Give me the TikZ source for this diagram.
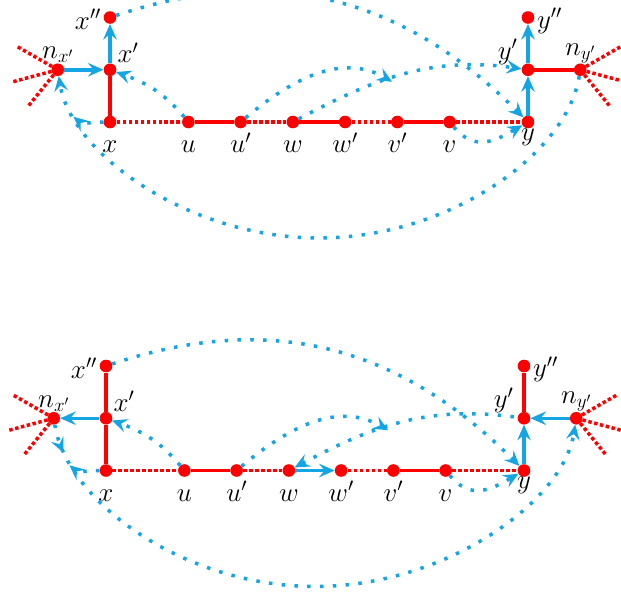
\RequirePackage{fix-cm}
\documentclass[tikz,border=0pt]{standalone}
\usetikzlibrary{arrows.meta,decorations.markings}
\definecolor{myred}{RGB}{255,0,0}
\definecolor{myblue}{RGB}{20,165,228}
\tikzset{
  vert/.style={circle, fill=myred, inner sep=0pt, minimum size=12.6pt},
  lab/.style={inner sep=0pt, font=\fontsize{27}{32}\selectfont},
  redline/.style={myred, line width=3.5pt},
  reddot/.style={myred, line width=3.5pt, dash pattern=on 3.5pt off 2.5pt},
  bluearrow/.style={myblue, line width=3.5pt, -{Stealth[length=15.5pt,width=13.5pt,inset=5.5pt]}},
  bluedot/.style={myblue, line width=3.5pt, dash pattern=on 3.5pt off 9.3pt},
  tipend/.style={-{Stealth[length=15pt,width=13.5pt,inset=5.5pt]}},
  tipstart/.style={{Stealth[length=15pt,width=13.5pt,inset=5.5pt]}-},
  midtip/.style={decoration={markings, mark=at position 0.045 with {\arrow{Stealth[length=15pt,width=13.5pt,inset=5.5pt]}}}, postaction={decorate}}
}
\begin{document}
\begin{tikzpicture}[x=52.25pt,y=52.25pt]
\useasboundingbox (-2.1053,-8.995) rectangle (9.780,2.335);
\clip (-2.1053,-8.995) rectangle (9.780,2.335);

% ---------------- top diagram ----------------
\begin{scope}
\node[vert] (tx) at (0,0) {};
\node[vert] (tx1) at (0,1) {};
\node[vert] (tx2) at (0,2) {};
\node[vert] (tnx) at (-1,1) {};
\node[vert] (tu) at (1.5,0) {};
\node[vert] (tu1) at (2.5,0) {};
\node[vert] (tw) at (3.5,0) {};
\node[vert] (tw1) at (4.5,0) {};
\node[vert] (tv1) at (5.5,0) {};
\node[vert] (tv) at (6.5,0) {};
\node[vert] (ty) at (8,0) {};
\node[vert] (ty1) at (8,1) {};
\node[vert] (ty2) at (8,2) {};
\node[vert] (tny) at (9,1) {};

\node[lab, anchor=base east] (tlx2) at (-0.17,1.77) {$x''$};
\node[lab, anchor=base west] (tlx1) at (0.14,1.13) {$x'$};
\node[lab, anchor=south] (tlnx) at (-1,1.13) {$n_{x'}$};
\node[lab, anchor=base] (tlx) at (0,-0.59) {$x$};
\node[lab, anchor=base] (tlu) at (1.5,-0.59) {$u$};
\node[lab, anchor=base] (tlu1) at (2.5,-0.59) {$u'$};
\node[lab, anchor=base] (tlw) at (3.5,-0.59) {$w$};
\node[lab, anchor=base] (tlw1) at (4.5,-0.59) {$w'$};
\node[lab, anchor=base] (tlv1) at (5.5,-0.59) {$v'$};
\node[lab, anchor=base] (tlv) at (6.5,-0.59) {$v$};
\node[lab, anchor=base] (tly) at (8,-0.345) {$y$};
\node[lab, anchor=base east] (tly1) at (7.8,1.2) {$y'$};
\node[lab, anchor=base west] (tly2) at (8.17,1.79) {$y''$};
\node[lab, anchor=south] (tlny) at (9,1.13) {$n_{y'}$};

\coordinate (tr1) at (-1.77,1.44);
\coordinate (tr2) at (-1.86,0.77);
\coordinate (tr3) at (-1.56,0.31);
\coordinate (tr4) at (9.77,1.44);
\coordinate (tr5) at (9.86,0.77);
\coordinate (tr6) at (9.56,0.31);
\draw[reddot] (tnx) -- (tr1);
\draw[reddot] (tnx) -- (tr2);
\draw[reddot] (tnx) -- (tr3);
\draw[reddot] (tny) -- (tr4);
\draw[reddot] (tny) -- (tr5);
\draw[reddot] (tny) -- (tr6);

\draw[redline] (tx) -- (tx1);
\draw[reddot] (tx) -- (tu);
\draw[redline] (tu) -- (tu1);
\draw[reddot] (tu1) -- (tw);
\draw[redline] (tw) -- (tw1);
\draw[reddot] (tw1) -- (tv1);
\draw[redline] (tv1) -- (tv);
\draw[reddot] (tv) -- (ty);
\draw[redline] (ty1) -- (tny);

\draw[bluearrow] (tnx) -- (tx1);
\draw[bluearrow] (tx1) -- (tx2);
\draw[bluearrow] (ty) -- (ty1);
\draw[bluearrow] (ty1) -- (ty2);

\coordinate (ta) at (5.4,0.77);
\coordinate (tb) at (4,-2.22);
\coordinate (tc) at (-0.7,0.1);
\draw[bluedot, tipend] (tu) to[out=130,in=-20] (tx1);
\draw[bluedot, tipend] (tx2) .. controls (3,3) and (5.5,2.5) .. (ty);
\draw[bluedot, tipend] (tu1) to[out=40,in=150] (ta);
\draw[bluedot, tipend] (tw) to[out=28,in=172] (ty1);
\draw[bluedot, tipend] (tv) to[out=-50,in=-150,looseness=1.2] (ty);
\draw[bluedot, tipend] (tny) .. controls (8.75,-0.6) and (6.5,-2.22) .. (tb) .. controls (1.5,-2.22) and (-0.75,-0.6) .. (tnx);
\draw[bluedot, tipend] (tx) to[out=180,in=-40] (tc);
\end{scope}

% ---------------- bottom diagram ----------------
\begin{scope}[shift={(-0.0766,-6.67)}]
\node[vert] (bx) at (0,0) {};
\node[vert] (bx1) at (0,1) {};
\node[vert] (bx2) at (0,2) {};
\node[vert] (bnx) at (-1,1) {};
\node[vert] (bu) at (1.5,0) {};
\node[vert] (bu1) at (2.5,0) {};
\node[vert] (bw) at (3.5,0) {};
\node[vert] (bw1) at (4.5,0) {};
\node[vert] (bv1) at (5.5,0) {};
\node[vert] (bv) at (6.5,0) {};
\node[vert] (by) at (8,0) {};
\node[vert] (by1) at (8,1) {};
\node[vert] (by2) at (8,2) {};
\node[vert] (bny) at (9,1) {};

\node[lab, anchor=base east] (blx2) at (-0.17,1.77) {$x''$};
\node[lab, anchor=base west] (blx1) at (0.14,1.13) {$x'$};
\node[lab, anchor=south] (blnx) at (-1,1.13) {$n_{x'}$};
\node[lab, anchor=base] (blx) at (0,-0.59) {$x$};
\node[lab, anchor=base] (blu) at (1.5,-0.59) {$u$};
\node[lab, anchor=base] (blu1) at (2.5,-0.59) {$u'$};
\node[lab, anchor=base] (blw) at (3.5,-0.59) {$w$};
\node[lab, anchor=base] (blw1) at (4.5,-0.59) {$w'$};
\node[lab, anchor=base] (blv1) at (5.5,-0.59) {$v'$};
\node[lab, anchor=base] (blv) at (6.5,-0.59) {$v$};
\node[lab, anchor=base] (bly) at (8,-0.345) {$y$};
\node[lab, anchor=base east] (bly1) at (7.8,1.2) {$y'$};
\node[lab, anchor=base west] (bly2) at (8.17,1.79) {$y''$};
\node[lab, anchor=south] (blny) at (9,1.13) {$n_{y'}$};

\coordinate (br1) at (-1.77,1.44);
\coordinate (br2) at (-1.86,0.77);
\coordinate (br3) at (-1.56,0.31);
\coordinate (br4) at (9.77,1.44);
\coordinate (br5) at (9.86,0.77);
\coordinate (br6) at (9.56,0.31);
\draw[reddot] (bnx) -- (br1);
\draw[reddot] (bnx) -- (br2);
\draw[reddot] (bnx) -- (br3);
\draw[reddot] (bny) -- (br4);
\draw[reddot] (bny) -- (br5);
\draw[reddot] (bny) -- (br6);

\draw[redline] (bx2) -- (bx1);
\draw[redline] (bx1) -- (bx);
\draw[reddot] (bx) -- (bu);
\draw[redline] (bu) -- (bu1);
\draw[reddot] (bu1) -- (bw);
\draw[reddot] (bw1) -- (bv1);
\draw[redline] (bv1) -- (bv);
\draw[reddot] (bv) -- (by);
\draw[redline] (by2) -- (by1);

\draw[bluearrow] (bx1) -- (bnx);
\draw[bluearrow] (by) -- (by1);
\draw[bluearrow] (bny) -- (by1);
\draw[bluearrow] (bw) -- (bw1);

\coordinate (ba) at (5.4,0.77);
\coordinate (bb) at (4,-2.22);
\coordinate (bc) at (-0.7,0.1);
\draw[bluedot, tipend] (bu) to[out=130,in=-20] (bx1);
\draw[bluedot, tipend] (bx2) .. controls (3,3) and (5.5,2.5) .. (by);
\draw[bluedot, tipend] (bu1) to[out=40,in=150] (ba);
\draw[bluedot, tipstart] (bw) to[out=28,in=172] (by1);
\draw[bluedot, tipend] (bv) to[out=-50,in=-150,looseness=1.2] (by);
\draw[bluedot, tipend, midtip] (bnx) .. controls (-0.75,-0.6) and (1.5,-2.22) .. (bb) .. controls (6.5,-2.22) and (8.75,-0.6) .. (bny);
\draw[bluedot, tipend] (bx) to[out=180,in=-40] (bc);
\end{scope}
\end{tikzpicture}
\end{document}
